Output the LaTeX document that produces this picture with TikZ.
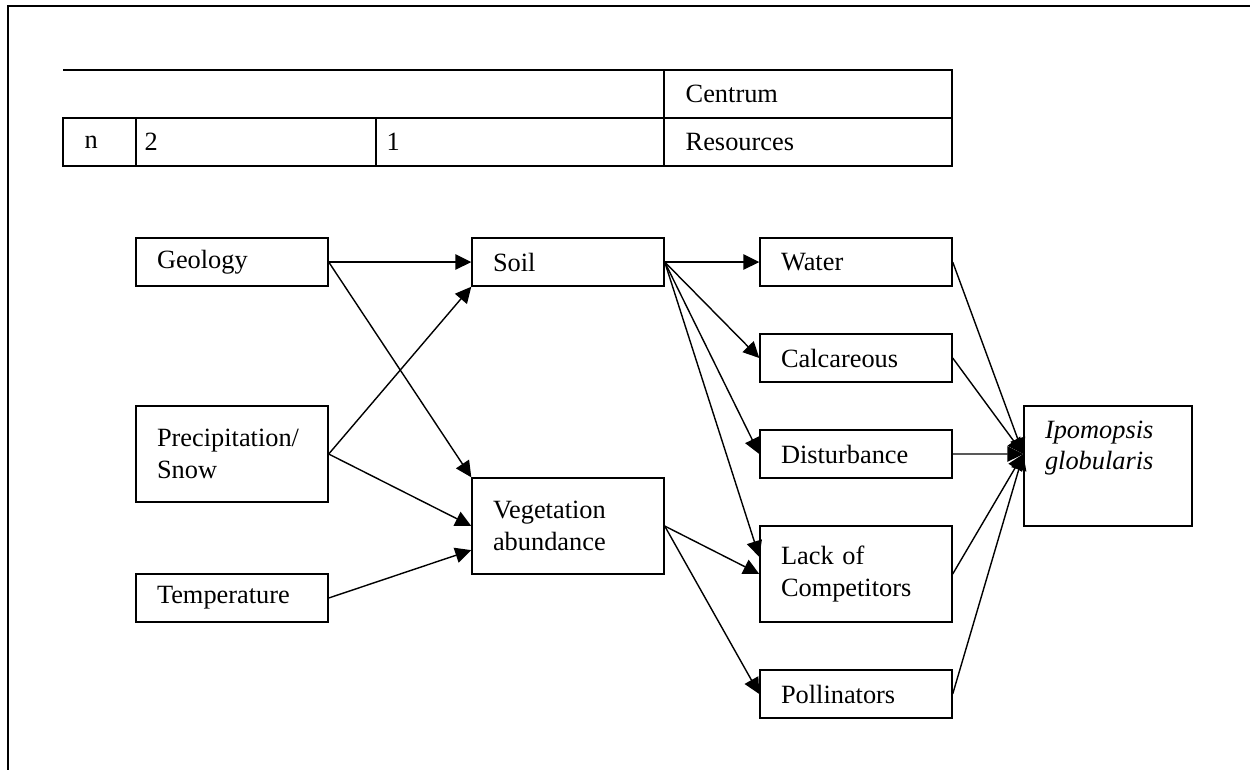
\documentclass[tikz,border=0pt]{standalone}
\usepackage{fontspec}
\setmainfont{Liberation Serif}
\usetikzlibrary{arrows.meta}

\begin{document}
\begin{tikzpicture}[node distance=5.76cm, >={Triangle[length=3.2mm,width=3.1mm]},
    font=\fontsize{15}{18}\selectfont, line width=0.8pt]
    \tikzstyle{box}=[draw, align=left, text width=3.0cm, inner xsep=0.42cm,
      minimum height=0.96cm]
    \tikzstyle{tallbox}=[box, minimum height=1.92cm]
    \tikzstyle{cell}=[anchor=west, inner sep=0pt]
    \useasboundingbox (0,0) rectangle (25,-15.4);

    % frame
    \draw[line width=1.6pt] (25,-0.12) -- (0.16,-0.12) -- (0.16,-15.4);

    % header table
    \draw (1.26,-1.4) -- (19.04,-1.4) -- (19.04,-3.32) -- (1.26,-3.32) -- (1.26,-2.36) -- (19.04,-2.36);
    \draw (13.28,-1.4) -- (13.28,-3.32);
    \draw (2.72,-2.36) -- (2.72,-3.32);
    \draw (7.52,-2.36) -- (7.52,-3.32);
    \node[cell] (cent) at (13.7,-1.88) {Centrum};
    \node[cell] (res) at (13.7,-2.84) {Resources};
    \node[cell] (coln) at (1.68,-2.84) {n};
    \node[cell] (col2) at (2.88,-2.84) {2};
    \node[cell] (col1) at (7.72,-2.84) {1};

    % drivers
    \node[box] (geo) at (4.64,-5.24) {Geology};
    \node[tallbox, below of=geo, node distance=3.84cm] (precip) {Precipitation/\\Snow};
    \node[box, below of=precip, node distance=2.88cm] (temp) {Temperature};

    \node[box, right of=geo, node distance=6.72cm] (soil) {Soil};
    \node[tallbox] (veg) at (11.36,-10.52) {Vegetation\\abundance};

    % resources
    \node[box, right of=soil] (water) {Water};
    \node[box, below of=water, node distance=1.92cm] (calc) {Calcareous};
    \node[box, below of=calc, node distance=1.92cm] (dist) {Disturbance};
    \node[tallbox, below of=dist, node distance=2.4cm] (lack) {Lack of\\Competitors};
    \node[box, below of=lack, node distance=2.4cm] (poll) {Pollinators};

    \node[tallbox, text width=2.52cm, minimum height=2.4cm] (ipo) at (22.16,-9.32)
      {\textit{Ipomopsis}\\\textit{globularis}\\\strut};
    \coordinate (ipoin) at ([yshift=0.24cm]ipo.west);

    \draw[->] (geo.east) -- (soil.west);
    \draw[->] (geo.east) -- (veg.north west);
    \draw[->] (precip.east) -- (soil.south west);
    \draw[->] (precip.east) -- (veg.west);
    \draw[->] (temp.east) -- (veg.194);

    \draw[->] (soil.east) -- (water.west);
    \draw[->] (soil.east) -- (calc.west);
    \draw[->] (soil.east) -- (dist.west);
    \draw[->] (soil.east) -- (lack.170);
    \draw[->] (veg.east) -- (lack.west);
    \draw[->] (veg.east) -- (poll.west);

    \draw[->] (water.east) -- (ipoin);
    \draw[->] (calc.east) -- (ipoin);
    \draw[->] (dist.east) -- (ipoin);
    \draw[->] (lack.east) -- (ipoin);
    \draw[->] (poll.east) -- (ipoin);
  \end{tikzpicture}
\end{document}
